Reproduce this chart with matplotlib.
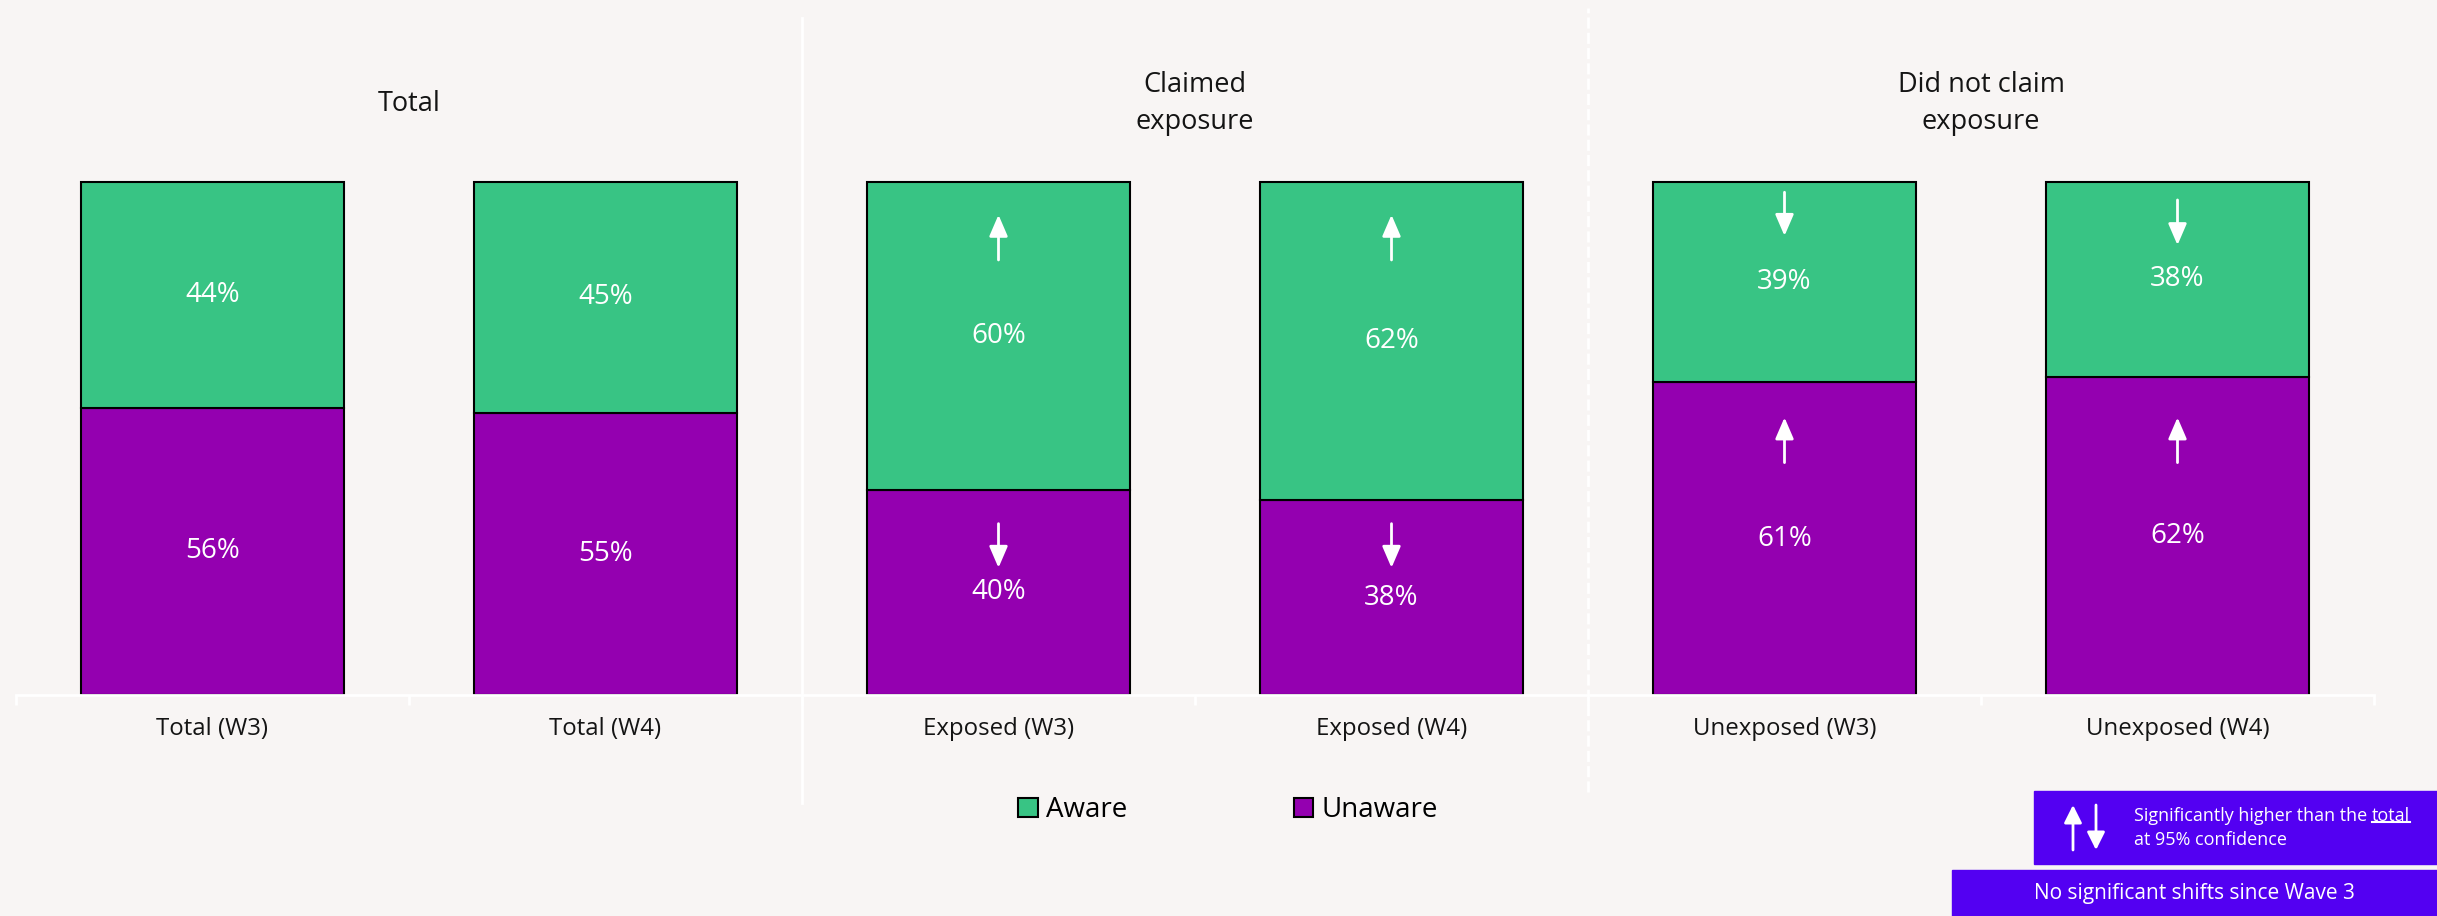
import numpy as np
import matplotlib
matplotlib.use("Agg")
import matplotlib.pyplot as plt
from matplotlib.patches import Rectangle, Patch
from matplotlib.lines import Line2D

plt.rcParams['font.family'] = ['Open Sans', 'DejaVu Sans']

categories = ["Total (W3)", "Total (W4)", "Exposed (W3)", "Exposed (W4)",
              "Unexposed (W3)", "Unexposed (W4)"]
unaware = [56, 55, 40, 38, 61, 62]
aware = [44, 45, 60, 62, 39, 38]
groups = ["Total", "Claimed\nexposure", "Did not claim\nexposure"]
# significance arrows vs total: (bar index, tail %, head %)
sig_arrows = [(2, 84.8, 93.6), (3, 84.8, 93.6),
              (2, 33.4, 24.8), (3, 33.4, 24.8),
              (4, 98.0, 89.5), (5, 96.5, 87.7),
              (4, 45.3, 54.1), (5, 45.3, 54.1)]

BG = "#f8f5f4"
GREEN = "#38c484"
PURPLE = "#9400b0"
BOX = "#5300f2"
TXT = "#141414"

W, H = 2437, 916
fig = plt.figure(figsize=(W / 100, H / 100), dpi=100, facecolor=BG)
ax = fig.add_axes([16 / W, 221 / H, 2358 / W, 513 / H])
ax.set_facecolor(BG)

x = np.arange(len(categories))
bot = np.array(unaware)
ax.bar(x, unaware, width=0.67, color=PURPLE, edgecolor="black", linewidth=1.5, clip_on=False)
ax.bar(x, aware, bottom=bot, width=0.67, color=GREEN, edgecolor="black", linewidth=1.5, clip_on=False)

for i in x:
    ax.text(i, unaware[i] / 2, f"{unaware[i]}%", ha="center", va="center", color="white", fontsize=20)
    ax.text(i, unaware[i] + aware[i] / 2, f"{aware[i]}%", ha="center", va="center", color="white", fontsize=20)

for i, y0, y1 in sig_arrows:
    ax.annotate("", xy=(i, y1), xytext=(i, y0),
                arrowprops=dict(arrowstyle="-|>,head_length=0.65,head_width=0.28",
                                color="white", lw=2, shrinkA=0, shrinkB=0, mutation_scale=20))

ax.set_xlim(-0.5, len(categories) - 0.5)
ax.set_ylim(0, 100)
for s in ["left", "right", "top"]:
    ax.spines[s].set_visible(False)
ax.spines["bottom"].set_color("white")
ax.spines["bottom"].set_linewidth(2)
ax.set_yticks([])
ax.set_xticks(x, categories, fontsize=17.3, color=TXT)
ax.tick_params(axis="x", which="major", length=0, pad=16)
ax.set_xticks(np.arange(-0.5, len(categories)), minor=True)
ax.tick_params(axis="x", which="minor", length=7, width=2, color="white")

# group headers and separators
tr = ax.get_xaxis_transform()
for g, name in enumerate(groups):
    ax.text(2 * g + 0.5, 1.153, name, transform=tr, ha="center", va="center",
            fontsize=19.5, color=TXT, linespacing=1.4)
ax.add_line(Line2D([1.5, 1.5], [-0.21, 1.32], transform=tr, color="white", lw=2, clip_on=False))
ax.add_line(Line2D([3.5, 3.5], [-0.19, 1.34], transform=tr, color="white", lw=2,
                   ls=(0, (4, 1.5)), clip_on=False))

fig.legend(handles=[Patch(facecolor=GREEN, edgecolor="black", lw=1.5, label="Aware"),
                    Patch(facecolor=PURPLE, edgecolor="black", lw=1.5, label="Unaware")],
           loc="center", bbox_to_anchor=(1228 / W, 1 - 810 / H), ncol=2, frameon=False,
           fontsize=20, handlelength=0.7, handleheight=0.7, handletextpad=0.3,
           columnspacing=6)

# key boxes
fig.patches.append(Rectangle((2034 / W, 52 / H), (W - 2034) / W, 73 / H,
                             transform=fig.transFigure, color=BOX))
fig.patches.append(Rectangle((1952 / W, 0), (W - 1952) / W, 46 / H,
                             transform=fig.transFigure, color=BOX))
for ax_x, y0, y1 in [(2073, 850, 805), (2096, 805, 850)]:
    fig.add_artist(plt.annotate("", xy=(ax_x / W, 1 - y1 / H), xytext=(ax_x / W, 1 - y0 / H),
                                xycoords="figure fraction", textcoords="figure fraction",
                                arrowprops=dict(arrowstyle="-|>,head_length=0.6,head_width=0.3",
                                                color="white", lw=2, shrinkA=0, shrinkB=0,
                                                mutation_scale=18)))
t1 = fig.text(2134 / W, 1 - 816 / H, "Significantly higher than the ", ha="left", va="center",
              color="white", fontsize=13)
fig.canvas.draw()
bb = t1.get_window_extent()
t2 = fig.text(bb.x1 / W, 1 - 816 / H, "total", ha="left", va="center", color="white", fontsize=13)
fig.canvas.draw()
bb2 = t2.get_window_extent()
fig.add_artist(Line2D([bb2.x0 / W, bb2.x1 / W], [(bb2.y0 + 3) / H] * 2,
                      transform=fig.transFigure, color="white", lw=1.5))
fig.text(2134 / W, 1 - 840 / H, "at 95% confidence", ha="left", va="center",
         color="white", fontsize=13)
fig.text((1952 + W) / 2 / W, 1 - 894 / H, "No significant shifts since Wave 3", ha="center",
         va="center", color="white", fontsize=15)

fig.savefig("out.png", dpi=100, facecolor=BG)
